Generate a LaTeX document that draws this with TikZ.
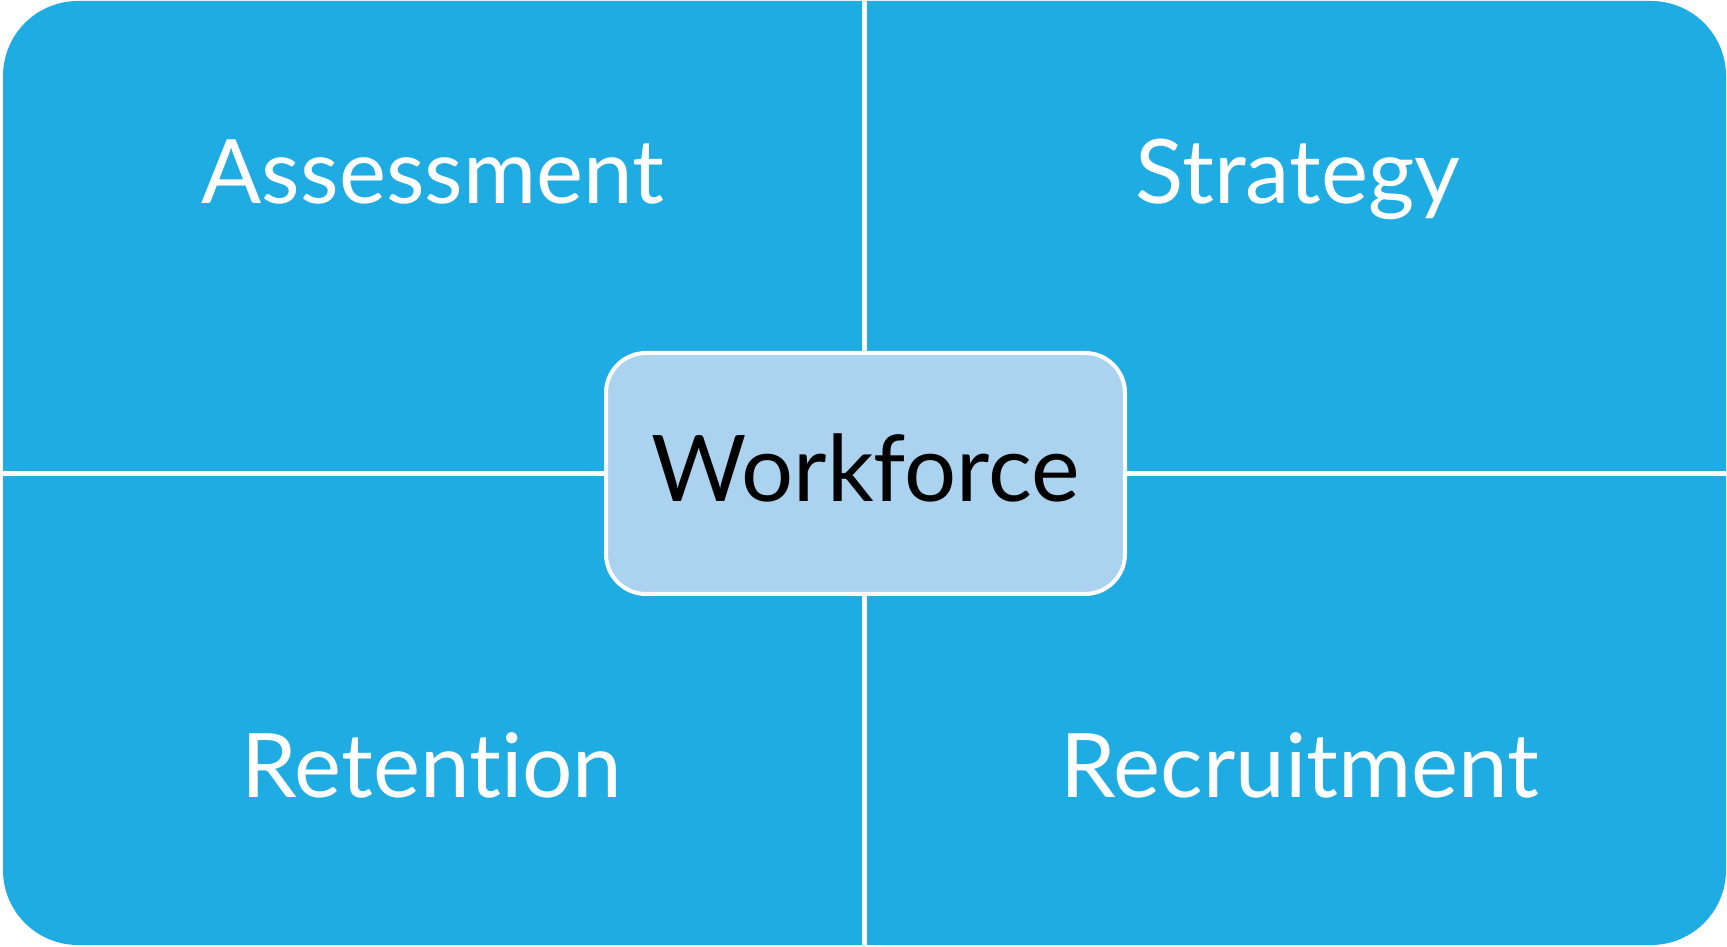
\documentclass[tikz,border=0pt]{standalone}
\usepackage{fontspec}
\setmainfont[Ligatures=NoCommon]{Lato}
\definecolor{quadblue}{RGB}{30,172,227}
\definecolor{coreblue}{RGB}{171,210,238}
\begin{document}
\begin{tikzpicture}[x=1pt,y=1pt,
  lab/.style={anchor=base,text=white,font=\fontsize{89}{100}\selectfont,inner sep=0pt},
  core/.style={draw=white,line width=4pt,fill=coreblue,rounded corners=40pt,
    minimum width=519pt,minimum height=241pt,inner sep=0pt},
  corelab/.style={anchor=base,inner sep=0pt,font=\fontsize{92}{100}\selectfont,text=black},
  divider/.style={white,line width=5pt}]
\useasboundingbox (0,0) rectangle (1727,947);
\fill[quadblue,rounded corners=75pt] (3,2) rectangle (1726,946);
\coordinate (top) at (864.5,947);
\coordinate (bottom) at (864.5,0);
\coordinate (left) at (0,473.5);
\coordinate (right) at (1727,473.5);
\draw[divider] (top) -- (bottom);
\draw[divider] (left) -- (right);
\node[core] (box) at (865.5,473.5) {};
\node[corelab] (workforce) at (865.5,445) {Workforce};
\node[lab] (assessment) at (433,743) {Assessment};
\node[lab] (strategy) at (1298,743) {Strategy};
\node[lab] (retention) at (432,149) {Retention};
\node[lab] (recruitment) at (1300,149) {Recruitment};
\end{tikzpicture}
\end{document}
